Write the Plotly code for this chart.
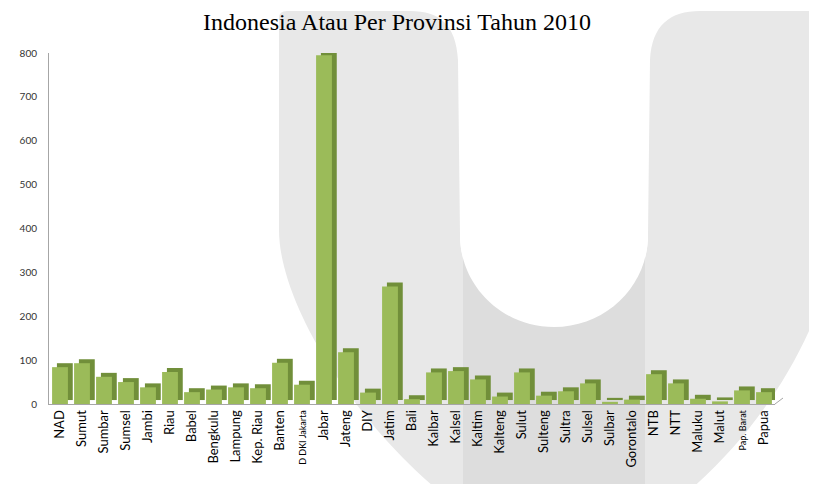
import plotly.graph_objects as go

# ---------------- data ----------------
provinces = ["NAD", "Sumut", "Sumbar", "Sumsel", "Jambi", "Riau", "Babel", "Bengkulu",
             "Lampung", "Kep. Riau", "Banten", "D DKI Jakarta", "Jabar", "Jateng", "DIY",
             "Jatim", "Bali", "Kalbar", "Kalsel", "Kaltim", "Kalteng", "Sulut", "Sulteng",
             "Sultra", "Sulsel", "Sulbar", "Gorontalo", "NTB", "NTT", "Maluku", "Malut",
             "Pap. Barat", "Papua"]
values = [84, 93, 62, 50, 38, 73, 27, 33,
          38, 36, 94, 44, 795, 118, 26,
          268, 11, 72, 75, 56, 17, 72, 19,
          29, 47, 5, 10, 68, 47, 12, 6,
          31, 27]
small_labels = ["D DKI Jakarta", "Pap. Barat"]
y_ticks = [0, 100, 200, 300, 400, 500, 600, 700, 800]
title_text = "Indonesia Atau Per Provinsi Tahun 2010"

# ---------------- layout geometry ----------------
# the page body has an 8px margin, so the figure is drawn 8px in from the corner
OFF = 8
W, H = 817 - OFF, 484 - OFF
# plot area in screen pixels
SX0, SX1, SY0, SY1 = 49, 775, 53, 404
L, R, T, B = SX0 - OFF, W - (SX1 - OFF), SY0 - OFF, H - (SY1 - OFF)
PW, PH = SX1 - SX0, SY1 - SY0

def px(x):
    return (x - SX0) / PW

def py(y):
    return (SY1 - y) / PH

def path(cmds):
    out = []
    for c in cmds:
        if isinstance(c, str):
            out.append(c)
        else:
            out.append("%.5f,%.5f" % (px(c[0]), py(c[1])))
    return " ".join(out)

# watermark "U" (decorative background), screen pixel outline
u_path = path(["M", (279, 18), "Q", (279, 11), (287, 11), "L", (410, 11),
               "C", (440, 11), (456, 25), (458, 60), "L", (460, 235),
               "C", (460, 286), (502, 327), (554, 327),
               "C", (606, 327), (648, 286), (648, 235),
               "L", (650, 60), "C", (652, 25), (670, 11), (700, 11),
               "L", (840, 11), "L", (835, 230),
               "C", (835, 330), (720, 520), (560, 560),
               "C", (420, 520), (279, 330), (279, 230), "Z"])
dark_path = path(["M", (463, 230), "L", (645, 230), "L", (645, 500), "L", (463, 500), "Z"])
notch_path = path(["M", (460, 40), "L", (460, 235),
                   "C", (460, 286), (502, 327), (554, 327),
                   "C", (606, 327), (648, 286), (648, 235),
                   "L", (648, 40), "Z"])
floor_path = path(["M", (775, 404), "L", (783, 398)])

shapes = [
    dict(type="path", xref="paper", yref="paper", path=u_path,
         fillcolor="#e8e8e8", line=dict(width=0), layer="below"),
    dict(type="path", xref="paper", yref="paper", path=dark_path,
         fillcolor="#dddddd", line=dict(width=0), layer="below"),
    dict(type="path", xref="paper", yref="paper", path=notch_path,
         fillcolor="#ffffff", line=dict(width=0), layer="below"),
    dict(type="path", xref="paper", yref="paper", path=floor_path,
         line=dict(color="#a6a6a6", width=1), layer="above"),
]

# ---------------- bars (pseudo 3D) ----------------
bar_w = 0.72
depth = 9       # value units for the top face
dx = 0.22       # category units for the side face

tick_text = []
for p in provinces:
    if p in small_labels:
        tick_text.append('<span style="font-size:9px">%s</span>' % p)
    else:
        tick_text.append(p)

fig = go.Figure()
fig.add_trace(go.Bar(
    x=provinces, y=values, base=[depth] * len(values),
    width=bar_w, offset=-bar_w / 2 + dx,
    marker=dict(color="#718f3a", line=dict(width=0)),
    cliponaxis=False, hoverinfo="skip", showlegend=False))
fig.add_trace(go.Bar(
    x=provinces, y=values,
    width=bar_w, offset=-bar_w / 2,
    marker=dict(color="#9bbb59", line=dict(width=0)),
    cliponaxis=False, showlegend=False))

fig.update_layout(
    width=W, height=H,
    margin=dict(l=L, r=R, t=T, b=B, autoexpand=False),
    paper_bgcolor="white", plot_bgcolor="rgba(0,0,0,0)",
    barmode="overlay",
    shapes=shapes,
    title=dict(text=title_text, x=(397 - OFF) / W, xanchor="center",
               y=1 - 14 / H, yanchor="middle", yref="container",
               font=dict(family="Liberation Serif", size=24, color="black")),
    xaxis=dict(type="category", tickmode="array", tickvals=provinces, ticktext=tick_text,
               tickangle=-90, showline=True, linecolor="#a6a6a6", linewidth=1,
               showgrid=False, ticks="", range=[-0.5, len(provinces) - 0.5],
               automargin=False,
               tickfont=dict(family="Lato", size=13, color="black")),
    yaxis=dict(range=[0, 800], tickmode="array", tickvals=y_ticks,
               showline=True, linecolor="#a6a6a6", linewidth=1,
               showgrid=False, zeroline=False, ticks="", ticklabelstandoff=9,
               automargin=False,
               tickfont=dict(family="Lato", size=10, color="#333333")),
)

fig.write_html("out.html")
